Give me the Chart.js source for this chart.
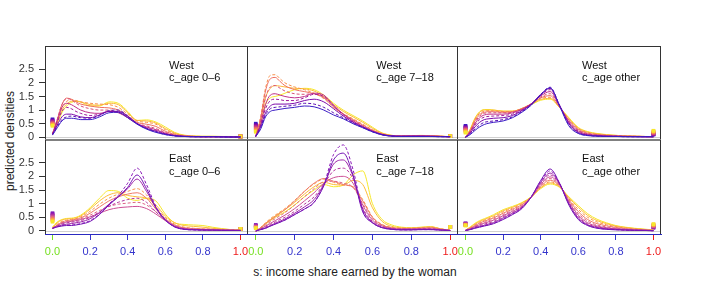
<!DOCTYPE html>
<html><head><meta charset="utf-8">
<script src="https://cdn.jsdelivr.net/npm/chart.js@4.4.0/dist/chart.umd.min.js"></script>
<style>
html,body{margin:0;padding:0;background:#fff}
body{width:706px;height:282px;position:relative;overflow:hidden;font-family:"Liberation Sans",Arial,sans-serif}
canvas{position:absolute;left:0;top:0}
.t{position:absolute;white-space:nowrap;font-size:12px;color:#222;font-family:"Liberation Sans",Arial,sans-serif}
</style></head>
<body>
<div class="t" style="left:10px;top:141px;transform:translate(-50%,-50%) rotate(-90deg)">predicted densities</div>
<div class="t" style="left:355px;top:272px;transform:translate(-50%,-50%)">s: income share earned by the woman</div>
<script>
// ---------- data ----------
const sGrid = [0,0.025,0.05,0.075,0.1,0.125,0.15,0.2,0.25,0.3,0.35,0.4,0.45,0.5,0.55,0.6,0.65,0.7,0.75,0.8,0.85,0.9,0.95,1.0];
const xTicks = [0,0.2,0.4,0.6,0.8,1.0];
const yTicks = [0,0.5,1,1.5,2,2.5];
const regions = ['West','West','West','East','East','East'];
const ageGroups = ['c_age 0\u20136','c_age 7\u201318','c_age other','c_age 0\u20136','c_age 7\u201318','c_age other'];

const westAge06 = [
 [0.08,0.35,0.6,0.7,0.7,0.68,0.65,0.65,0.75,0.9,0.92,0.72,0.48,0.3,0.18,0.1,0.05,0.03,0.02,0.02,0.02,0.01,0.01,0.01],
 [0.1,0.4,0.65,0.75,0.78,0.75,0.72,0.7,0.8,0.98,1.0,0.78,0.5,0.32,0.2,0.1,0.05,0.03,0.02,0.02,0.02,0.01,0.01,0.01],
 [0.1,0.45,0.75,0.85,0.85,0.8,0.75,0.72,0.82,0.95,0.95,0.78,0.5,0.33,0.22,0.12,0.06,0.03,0.02,0.02,0.02,0.02,0.01,0.01],
 [0.12,0.55,0.95,1.1,1.05,0.95,0.88,0.8,0.85,0.95,0.92,0.75,0.5,0.35,0.25,0.13,0.06,0.03,0.02,0.02,0.02,0.02,0.01,0.01],
 [0.12,0.6,1.1,1.25,1.2,1.1,1.0,0.9,0.88,0.95,0.9,0.72,0.5,0.38,0.28,0.15,0.07,0.04,0.03,0.02,0.02,0.02,0.01,0.01],
 [0.12,0.65,1.2,1.42,1.38,1.25,1.15,1.05,1.0,1.0,0.92,0.72,0.5,0.42,0.32,0.18,0.08,0.04,0.03,0.02,0.02,0.02,0.02,0.01],
 [0.12,0.65,1.2,1.44,1.4,1.3,1.22,1.15,1.1,1.08,1.0,0.78,0.55,0.48,0.4,0.22,0.1,0.05,0.03,0.02,0.02,0.02,0.02,0.01],
 [0.12,0.6,1.1,1.32,1.38,1.35,1.3,1.25,1.22,1.2,1.1,0.85,0.6,0.55,0.48,0.28,0.13,0.06,0.04,0.03,0.03,0.02,0.02,0.02],
 [0.13,0.55,1.0,1.22,1.32,1.33,1.3,1.2,1.18,1.25,1.2,0.9,0.62,0.6,0.52,0.32,0.15,0.07,0.04,0.03,0.03,0.03,0.02,0.02],
 [0.15,0.5,0.9,1.15,1.28,1.32,1.3,1.15,1.15,1.3,1.25,0.95,0.62,0.64,0.56,0.38,0.18,0.08,0.05,0.04,0.04,0.03,0.03,0.02]
];
const westAge718 = [
 [0.03,0.3,0.75,0.95,1.0,1.03,1.06,1.1,1.15,1.12,1.0,0.82,0.68,0.5,0.35,0.2,0.09,0.04,0.03,0.03,0.03,0.03,0.02,0.02],
 [0.03,0.35,0.82,1.05,1.1,1.12,1.14,1.18,1.25,1.22,1.1,0.9,0.72,0.52,0.36,0.2,0.09,0.04,0.03,0.03,0.03,0.03,0.02,0.02],
 [0.03,0.4,0.9,1.15,1.22,1.22,1.22,1.25,1.35,1.4,1.3,1.05,0.78,0.55,0.38,0.22,0.1,0.05,0.04,0.04,0.04,0.03,0.03,0.02],
 [0.03,0.45,1.05,1.35,1.4,1.38,1.35,1.35,1.45,1.58,1.5,1.15,0.82,0.57,0.38,0.22,0.1,0.05,0.04,0.04,0.04,0.04,0.03,0.02],
 [0.03,0.5,1.2,1.55,1.6,1.55,1.5,1.45,1.5,1.62,1.55,1.18,0.85,0.6,0.4,0.23,0.1,0.05,0.04,0.05,0.05,0.04,0.03,0.02],
 [0.04,0.6,1.45,1.85,1.9,1.8,1.7,1.6,1.58,1.6,1.48,1.15,0.85,0.62,0.42,0.24,0.11,0.05,0.05,0.05,0.05,0.05,0.03,0.02],
 [0.04,0.7,1.7,2.15,2.2,2.05,1.9,1.75,1.68,1.6,1.45,1.12,0.85,0.65,0.45,0.26,0.12,0.06,0.05,0.05,0.06,0.05,0.04,0.02],
 [0.04,0.75,1.8,2.28,2.3,2.15,2.0,1.85,1.75,1.62,1.42,1.1,0.87,0.68,0.48,0.28,0.13,0.06,0.05,0.06,0.06,0.06,0.04,0.02],
 [0.04,0.6,1.45,1.8,1.9,1.88,1.85,1.8,1.78,1.7,1.5,1.2,0.95,0.75,0.55,0.33,0.15,0.07,0.05,0.06,0.06,0.06,0.04,0.02],
 [0.04,0.5,1.2,1.45,1.5,1.55,1.62,1.75,1.8,1.75,1.55,1.25,1.0,0.8,0.6,0.37,0.16,0.07,0.05,0.06,0.07,0.06,0.04,0.02]
];
const westAgeOther = [
 [0.0,0.1,0.25,0.38,0.47,0.52,0.55,0.6,0.72,0.92,1.18,1.55,1.82,1.15,0.42,0.14,0.06,0.04,0.03,0.03,0.02,0.02,0.02,0.02],
 [0.0,0.12,0.3,0.45,0.55,0.58,0.6,0.65,0.75,0.95,1.2,1.58,1.84,1.18,0.45,0.15,0.07,0.04,0.03,0.03,0.02,0.02,0.02,0.02],
 [0.0,0.15,0.38,0.55,0.65,0.68,0.7,0.72,0.8,0.98,1.22,1.58,1.8,1.18,0.5,0.18,0.08,0.05,0.04,0.03,0.03,0.02,0.02,0.02],
 [0.0,0.18,0.45,0.65,0.74,0.77,0.78,0.8,0.85,1.0,1.22,1.55,1.75,1.17,0.53,0.2,0.09,0.06,0.04,0.04,0.03,0.03,0.02,0.02],
 [0.0,0.2,0.5,0.72,0.82,0.85,0.85,0.85,0.9,1.02,1.23,1.52,1.68,1.15,0.56,0.23,0.11,0.07,0.05,0.04,0.03,0.03,0.02,0.02],
 [0.0,0.22,0.55,0.78,0.88,0.9,0.9,0.9,0.92,1.04,1.23,1.48,1.6,1.14,0.6,0.26,0.13,0.08,0.06,0.05,0.04,0.03,0.03,0.02],
 [0.0,0.24,0.6,0.83,0.92,0.94,0.94,0.92,0.94,1.05,1.23,1.45,1.53,1.12,0.63,0.29,0.15,0.1,0.07,0.05,0.04,0.04,0.03,0.02],
 [0.0,0.26,0.65,0.88,0.96,0.98,0.97,0.94,0.95,1.06,1.23,1.42,1.47,1.1,0.66,0.32,0.17,0.11,0.08,0.06,0.05,0.04,0.03,0.02],
 [0.0,0.28,0.68,0.92,1.0,1.0,1.0,0.96,0.96,1.06,1.22,1.39,1.43,1.1,0.69,0.34,0.19,0.13,0.09,0.07,0.05,0.04,0.03,0.02],
 [0.0,0.3,0.7,0.94,1.02,1.02,1.0,0.96,0.96,1.05,1.2,1.36,1.4,1.1,0.72,0.36,0.21,0.14,0.1,0.07,0.05,0.04,0.03,0.02]
];
const eastAge06 = [
 [0.1,0.15,0.18,0.2,0.2,0.22,0.25,0.35,0.6,0.95,1.25,1.6,2.05,1.55,0.85,0.4,0.15,0.06,0.04,0.03,0.03,0.02,0.02,0.02],
 [0.1,0.15,0.2,0.22,0.22,0.24,0.27,0.38,0.62,0.98,1.3,1.75,2.3,1.7,0.9,0.42,0.15,0.06,0.04,0.03,0.03,0.02,0.02,0.02],
 [0.1,0.16,0.22,0.25,0.27,0.3,0.33,0.45,0.68,0.98,1.25,1.55,1.9,1.45,0.85,0.4,0.16,0.07,0.05,0.04,0.03,0.03,0.02,0.02],
 [0.1,0.18,0.25,0.3,0.32,0.35,0.38,0.5,0.7,0.9,1.05,1.15,1.2,1.05,0.7,0.4,0.18,0.08,0.06,0.05,0.04,0.03,0.03,0.02],
 [0.1,0.2,0.28,0.33,0.35,0.38,0.42,0.52,0.65,0.78,0.85,0.88,0.9,0.82,0.62,0.38,0.18,0.09,0.06,0.05,0.04,0.04,0.03,0.02],
 [0.1,0.2,0.3,0.35,0.38,0.4,0.45,0.58,0.75,0.9,0.98,1.02,1.05,0.95,0.7,0.42,0.2,0.1,0.07,0.06,0.05,0.04,0.03,0.02],
 [0.1,0.22,0.32,0.38,0.4,0.43,0.48,0.65,0.88,1.1,1.25,1.35,1.4,1.2,0.8,0.45,0.22,0.12,0.09,0.07,0.06,0.05,0.04,0.03],
 [0.1,0.25,0.35,0.4,0.42,0.45,0.52,0.72,0.98,1.2,1.35,1.45,1.55,1.32,0.88,0.5,0.25,0.14,0.1,0.08,0.07,0.06,0.04,0.03],
 [0.12,0.3,0.4,0.44,0.45,0.48,0.55,0.8,1.1,1.32,1.4,1.3,1.25,1.2,0.95,0.55,0.3,0.2,0.17,0.14,0.1,0.07,0.05,0.03],
 [0.15,0.33,0.42,0.46,0.47,0.5,0.58,0.85,1.2,1.48,1.45,1.2,1.12,1.2,1.1,0.62,0.3,0.24,0.22,0.2,0.14,0.09,0.05,0.03]
];
const eastAge718 = [
 [0.0,0.05,0.1,0.18,0.25,0.32,0.4,0.6,0.8,1.05,1.65,2.6,2.85,2.05,0.7,0.3,0.12,0.06,0.04,0.04,0.05,0.05,0.03,0.02],
 [0.0,0.05,0.1,0.18,0.26,0.33,0.4,0.6,0.8,1.05,1.7,2.8,3.15,2.25,0.75,0.3,0.12,0.06,0.04,0.04,0.05,0.05,0.03,0.02],
 [0.0,0.06,0.12,0.2,0.28,0.36,0.44,0.65,0.88,1.15,1.7,2.45,2.6,2.0,0.8,0.32,0.13,0.07,0.05,0.05,0.06,0.06,0.04,0.02],
 [0.0,0.07,0.15,0.24,0.33,0.42,0.5,0.72,0.98,1.25,1.72,2.2,2.3,1.9,0.85,0.35,0.15,0.08,0.06,0.06,0.07,0.07,0.05,0.02],
 [0.0,0.08,0.18,0.28,0.38,0.48,0.58,0.82,1.1,1.4,1.75,1.95,2.0,1.75,0.95,0.4,0.18,0.09,0.07,0.07,0.08,0.08,0.05,0.02],
 [0.0,0.1,0.22,0.34,0.45,0.56,0.67,0.95,1.25,1.55,1.8,1.82,1.75,1.6,1.0,0.45,0.2,0.1,0.08,0.08,0.09,0.1,0.06,0.02],
 [0.0,0.12,0.27,0.4,0.52,0.65,0.78,1.1,1.45,1.75,1.92,1.82,1.7,1.6,1.1,0.5,0.22,0.12,0.09,0.09,0.1,0.12,0.07,0.02],
 [0.0,0.13,0.3,0.45,0.58,0.7,0.82,1.12,1.45,1.72,1.9,1.78,1.68,1.62,1.15,0.52,0.24,0.13,0.1,0.1,0.12,0.14,0.08,0.02],
 [0.0,0.12,0.28,0.42,0.55,0.67,0.78,1.05,1.35,1.62,1.78,1.7,1.68,1.85,1.7,0.85,0.35,0.17,0.12,0.11,0.13,0.15,0.08,0.02],
 [0.0,0.1,0.25,0.38,0.5,0.6,0.7,0.95,1.25,1.5,1.7,1.62,1.68,2.05,2.2,1.0,0.42,0.22,0.14,0.12,0.14,0.16,0.08,0.02]
];
const eastAgeOther = [
 [0.02,0.05,0.1,0.14,0.18,0.22,0.27,0.42,0.6,0.82,1.25,1.85,2.27,1.75,0.95,0.42,0.2,0.1,0.06,0.04,0.03,0.02,0.02,0.01],
 [0.02,0.05,0.11,0.15,0.19,0.23,0.28,0.44,0.62,0.84,1.25,1.82,2.2,1.75,0.98,0.45,0.21,0.11,0.07,0.05,0.03,0.02,0.02,0.01],
 [0.02,0.06,0.12,0.17,0.21,0.26,0.31,0.48,0.65,0.86,1.25,1.78,2.12,1.74,1.0,0.48,0.23,0.13,0.08,0.06,0.04,0.03,0.02,0.01],
 [0.02,0.07,0.14,0.2,0.25,0.3,0.35,0.52,0.68,0.88,1.24,1.74,2.05,1.72,1.03,0.53,0.26,0.15,0.1,0.07,0.05,0.04,0.03,0.01],
 [0.02,0.08,0.16,0.23,0.29,0.34,0.4,0.56,0.72,0.9,1.24,1.7,1.98,1.7,1.07,0.58,0.3,0.18,0.12,0.08,0.06,0.04,0.03,0.02],
 [0.02,0.09,0.18,0.26,0.32,0.38,0.44,0.6,0.76,0.93,1.24,1.66,1.92,1.68,1.1,0.64,0.36,0.22,0.15,0.1,0.07,0.05,0.04,0.02],
 [0.03,0.1,0.2,0.29,0.36,0.42,0.48,0.65,0.8,0.96,1.24,1.63,1.86,1.66,1.14,0.71,0.42,0.27,0.19,0.13,0.09,0.06,0.04,0.02],
 [0.03,0.12,0.23,0.32,0.39,0.45,0.52,0.7,0.84,0.99,1.24,1.6,1.8,1.64,1.18,0.79,0.5,0.33,0.23,0.16,0.11,0.08,0.05,0.03],
 [0.03,0.13,0.25,0.35,0.42,0.49,0.56,0.74,0.87,1.02,1.25,1.58,1.76,1.62,1.22,0.87,0.57,0.38,0.27,0.18,0.13,0.09,0.06,0.03],
 [0.03,0.15,0.28,0.38,0.45,0.52,0.6,0.78,0.9,1.04,1.25,1.55,1.72,1.6,1.25,0.93,0.63,0.43,0.3,0.2,0.14,0.1,0.07,0.04]
];
// point masses at s = 0 and s = 1 (one per curve)
const massAt0 = [
 [0.66,0.63,0.6,0.58,0.55,0.52,0.5,0.47,0.45,0.42],
 [0.5,0.46,0.43,0.4,0.37,0.33,0.3,0.26,0.23,0.2],
 [0.42,0.39,0.36,0.34,0.31,0.28,0.26,0.23,0.2,0.17],
 [0.65,0.62,0.58,0.55,0.51,0.48,0.45,0.41,0.38,0.34],
 [0.22,0.2,0.19,0.17,0.16,0.14,0.13,0.12,0.11,0.1],
 [0.28,0.27,0.26,0.25,0.24,0.23,0.22,0.22,0.21,0.2]
];
const massAt1 = [
 [0.03,0.03,0.03,0.03,0.03,0.03,0.03,0.03,0.03,0.03],
 [0.04,0.04,0.04,0.04,0.04,0.04,0.04,0.04,0.04,0.04],
 [0.1,0.11,0.12,0.13,0.14,0.16,0.18,0.2,0.22,0.24],
 [0.08,0.08,0.08,0.08,0.08,0.08,0.08,0.08,0.08,0.08],
 [0.15,0.15,0.15,0.15,0.15,0.15,0.15,0.15,0.15,0.15],
 [0.12,0.13,0.14,0.16,0.18,0.19,0.21,0.22,0.24,0.25]
];
const panelCurves = [westAge06, westAge718, westAgeOther, eastAge06, eastAge718, eastAgeOther];

// ---------- styles / geometry ----------
const westColors = ['#3a1cc4','#5a0cb4','#7d0aaa','#a01a9c','#c0308a','#d84e78','#ee6e60','#f8904a','#fdb838','#f6e82a'];
const eastColors = ['#7414b4','#8a18b8','#9c22a8','#b4359c','#cc4e94','#dc6486','#ee7a68','#f8964a','#fdbc38','#f6e82a'];
const seriesDashed = [false,true,false,true,false,true,false,true,false,false];
const colLeft = [45,248,458], colRight = [248,458,661];
const rowTop = [46,140], rowBottom = [140,234];
const rowYMin = [-0.1,-0.11], rowYMax = [3.355,3.33];
const W = 706, H = 282;
const tickColor = v => v === 0 ? '#77e022' : (v === 1 ? '#ee1a1a' : '#3535cc');

Chart.defaults.font.family = '"Liberation Sans", Arial, sans-serif';

function makePanel(idx) {
  const row = Math.floor(idx / 3), col = idx % 3;
  const colors = row === 0 ? westColors : eastColors;
  const canvas = document.createElement('canvas');
  canvas.width = W; canvas.height = H;
  canvas.style.width = W + 'px'; canvas.style.height = H + 'px';
  document.body.appendChild(canvas);
  const isLeft = col === 0, isBottom = row === 1;
  const datasets = [];
  panelCurves[idx].forEach((vals, k) => {
    datasets.push({
      type: 'line',
      data: sGrid.map((s, i) => ({x: s, y: vals[i]})),
      borderColor: colors[k], borderWidth: 1,
      borderDash: seriesDashed[k] ? [3, 2] : [],
      pointRadius: 0, fill: false, cubicInterpolationMode: 'monotone'
    });
  });
  datasets.push({
    type: 'scatter',
    data: massAt0[idx].map(v => ({x: 0, y: v})).concat(massAt1[idx].map(v => ({x: 1, y: v}))),
    pointStyle: 'rect', pointRadius: 2.6, borderWidth: 0,
    pointBackgroundColor: colors.concat(colors), showLine: false
  });
  const plugin = {
    id: 'panelDeco' + idx,
    beforeDatasetsDraw(chart) {
      const {ctx, chartArea: a, scales: {y}} = chart;
      const y0 = Math.round(y.getPixelForValue(0)) + 0.5;
      ctx.save();
      ctx.strokeStyle = '#d0d0d0'; ctx.lineWidth = 1;
      ctx.beginPath(); ctx.moveTo(a.left, y0); ctx.lineTo(a.right, y0); ctx.stroke();
      ctx.restore();
    },
    afterDatasetsDraw(chart) {
      const {ctx, chartArea: a, scales: {x, y}} = chart;
      ctx.save();
      ctx.fillStyle = '#111'; ctx.font = '11px "Liberation Sans", Arial, sans-serif';
      ctx.textAlign = 'left'; ctx.textBaseline = 'middle';
      ctx.fillText(regions[idx], x.getPixelForValue(0.62), y.getPixelForValue(2.62));
      ctx.fillText(ageGroups[idx], x.getPixelForValue(0.62), y.getPixelForValue(2.17));
      ctx.strokeStyle = '#333'; ctx.lineWidth = 1;
      ctx.beginPath();
      if (row === 0) { ctx.moveTo(a.left, a.top + 0.5); ctx.lineTo(a.right, a.top + 0.5); }
      if (col === 0) { ctx.moveTo(a.left + 0.5, a.top); ctx.lineTo(a.left + 0.5, a.bottom); }
      ctx.moveTo(a.right - 0.5, a.top); ctx.lineTo(a.right - 0.5, a.bottom);
      ctx.stroke();
      if (row === 0) {
        ctx.strokeStyle = '#808080'; ctx.lineWidth = 2;
        ctx.beginPath(); ctx.moveTo(a.left, a.bottom); ctx.lineTo(a.right, a.bottom); ctx.stroke();
      }
      ctx.restore();
    }
  };
  new Chart(canvas, {
    data: {datasets},
    plugins: [plugin],
    options: {
      responsive: false, animation: false, devicePixelRatio: 1,
      layout: {padding: {
        left: isLeft ? 0 : colLeft[col],
        right: W - colRight[col],
        top: rowTop[row],
        bottom: isBottom ? 0 : H - rowBottom[row]
      }},
      plugins: {legend: {display: false}, tooltip: {enabled: false}},
      scales: {
        x: {
          type: 'linear', min: -0.04, max: 1.04, display: isBottom,
          afterBuildTicks: s => { s.ticks = xTicks.map(v => ({value: v})); },
          afterFit: s => { if (isBottom) s.height = H - rowBottom[1]; },
          border: {display: true, color: '#2a2ac0', width: 1},
          grid: {drawOnChartArea: false, drawTicks: true, tickLength: 6,
                 color: c => tickColor(c.tick ? c.tick.value : 0)},
          ticks: {padding: 5, font: {size: 11}, maxRotation: 0, autoSkip: false,
                  color: c => tickColor(c.tick.value),
                  callback: v => Number(v).toFixed(1)}
        },
        y: {
          type: 'linear', min: rowYMin[row], max: rowYMax[row], display: isLeft,
          afterBuildTicks: s => { s.ticks = yTicks.map(v => ({value: v})); },
          afterFit: s => { if (isLeft) s.width = colLeft[0]; },
          border: {display: false},
          grid: {drawOnChartArea: false, drawTicks: true, tickLength: 6, color: '#333'},
          ticks: {padding: 5, font: {size: 11}, color: '#333', autoSkip: false,
                  callback: v => String(Number(v))}
        }
      }
    }
  });
}
for (let i = 0; i < 6; i++) makePanel(i);
</script>
</body></html>
